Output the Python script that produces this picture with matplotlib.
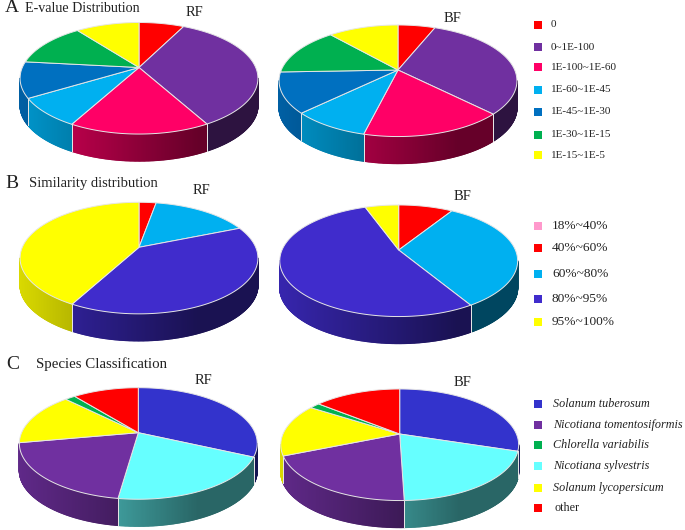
"""Three rows of perspective pies (RF / BF), drawn on one pixel-sized axes."""

import matplotlib

matplotlib.use("Agg")

import matplotlib.pyplot as plt  # noqa: E402
import numpy as np  # noqa: E402
from matplotlib.collections import PolyCollection  # noqa: E402
from matplotlib.colors import to_rgb  # noqa: E402

plt.rcParams["font.family"] = ["Liberation Serif", "DejaVu Serif"]

EVALUE_LABELS = ["0", "0~1E-100", "1E-100~1E-60", "1E-60~1E-45",
                 "1E-45~1E-30", "1E-30~1E-15", "1E-15~1E-5"]
EVALUE_COLORS = ["#FF0000", "#7030A0", "#FF0066", "#00B0F0",
                 "#0070C0", "#00B050", "#FFFF00"]
EVALUE_RF = [7.4, 34.6, 16.0, 8.4, 10.4, 12.9, 10.4]
EVALUE_BF = [6.1, 31.5, 16.3, 8.9, 11.7, 14.1, 11.5]

SIM_LABELS = ["18%~40%", "40%~60%", "60%~80%", "80%~95%", "95%~100%"]
SIM_COLORS = ["#FF99CC", "#FF0000", "#00B0F0", "#402CCC", "#FFFF00"]
SIM_RF = [0.0, 2.8, 16.0, 39.1, 42.1]
SIM_BF = [0.0, 8.9, 32.5, 53.1, 5.5]

# pie order differs from the legend order in this row
SPECIES_LABELS = ["Solanum tuberosum", "Nicotiana tomentosiformis",
                  "Chlorella variabilis", "Nicotiana sylvestris",
                  "Solanum lycopersicum", "other"]
SPECIES_COLORS = ["#3333CC", "#7030A0", "#00B050", "#66FFFF", "#FFFF00", "#FF0000"]
SPECIES_ORDER = [0, 3, 1, 4, 2, 5]
SPECIES_RF = [31.9, 19.9, 1.7, 20.4, 15.4, 10.8]
SPECIES_BF = [29.9, 19.3, 1.7, 19.6, 15.3, 14.2]

# perspective of the disc, in pixels
RADIUS = 116.7
TILT = 53.7
PERSP = 0.193
DEPTH = 27
SIDE_FROM, SIDE_TO = 101.1, 258.9
RIM = "#e6e6e6"


def project(theta_deg, cx, cy):
    th = np.radians(theta_deg)
    w = 1 + PERSP * np.cos(th)
    return cx + RADIUS * np.sin(th) / w, cy - TILT * np.cos(th) / w


def shade(x, cx):
    t = (x - (cx - RADIUS * 1.02)) / (2 * RADIUS * 1.02)
    return np.clip(0.85 - 0.6 * t, 0.4, 1.0)


def draw_pie(ax, values, colors, cx, cy):
    vals = np.asarray(values, dtype=float)
    edges = np.concatenate([[0], np.cumsum(vals) / vals.sum() * 360])
    for start, end, col in zip(edges[:-1], edges[1:], colors):
        if end <= start:
            continue
        rgb = np.array(to_rgb(col))
        # side wall first, as thin strips so it can carry the gradient
        a, b = max(start, SIDE_FROM), min(end, SIDE_TO)
        if b > a:
            th = np.linspace(a, b, max(3, int((b - a) * 2)))
            x, y = project(th, cx, cy)
            quads, cols = [], []
            for i in range(len(th) - 1):
                quads.append([(x[i], y[i]), (x[i + 1], y[i + 1]),
                              (x[i + 1], y[i + 1] + DEPTH), (x[i], y[i] + DEPTH)])
                cols.append(rgb * shade((x[i] + x[i + 1]) / 2, cx))
            ax.add_collection(PolyCollection(quads, facecolors=cols, edgecolors=cols,
                                             linewidths=0.9, zorder=2))
            for k in (a, b):
                if k in (start, end) and SIDE_FROM < k < SIDE_TO:
                    xk, yk = project(k, cx, cy)
                    ax.plot([xk, xk], [yk, yk + DEPTH], color=RIM, lw=0.7, zorder=3)
        # top face
        th = np.linspace(start, end, max(3, int((end - start) * 2)))
        x, y = project(th, cx, cy)
        ax.fill(np.r_[cx, x], np.r_[cy, y], facecolor=col, edgecolor=RIM,
                linewidth=0.7, joinstyle="round", zorder=4)


def draw_legend(ax, labels, colors, ys, text_x, size, **kw):
    for lbl, col, y in zip(labels, colors, ys):
        ax.scatter([538.5], [y], marker="s", s=27, color=col, linewidths=0, zorder=5)
        ax.text(text_x, y, lbl, va="center", ha="left", fontsize=size, color="#222222", **kw)


fig = plt.figure(figsize=(6.85, 5.30), dpi=100)
ax = fig.add_axes([0, 0, 1, 1])
ax.set_xlim(0, 685)
ax.set_ylim(530, 0)
ax.axis("off")

draw_pie(ax, EVALUE_RF, EVALUE_COLORS, 139, 67.5)
draw_pie(ax, EVALUE_BF, EVALUE_COLORS, 398, 70)
draw_pie(ax, SIM_RF, SIM_COLORS, 139, 247.3)
draw_pie(ax, SIM_BF, SIM_COLORS, 398.7, 250)
species_colors = [SPECIES_COLORS[i] for i in SPECIES_ORDER]
draw_pie(ax, [SPECIES_RF[i] for i in SPECIES_ORDER], species_colors, 138.3, 432.7)
draw_pie(ax, [SPECIES_BF[i] for i in SPECIES_ORDER], species_colors, 399.7, 434)

for x, y, s in [(5, 8, "A"), (5, 184, "B"), (6, 364.5, "C")]:
    ax.text(x, y, s, fontsize=14, va="center", ha="left", color="#222222")
for x, y, s, size in [(25, 8, "E-value Distribution", 10.1),
                      (29, 184, "Similarity distribution", 10.5),
                      (36, 364, "Species Classification", 10.7)]:
    ax.text(x, y, s, fontsize=size, va="center", ha="left", color="#222222")
for x, y, s in [(186, 13, "RF"), (444, 18, "BF"), (193, 190, "RF"),
                (454, 196, "BF"), (195, 380, "RF"), (454, 382, "BF")]:
    ax.text(x, y, s, fontsize=10.5, va="center", ha="left", color="#222222")

draw_legend(ax, EVALUE_LABELS, EVALUE_COLORS, [24.5, 47, 67, 90, 111.5, 134.5, 155], 551, 8.0)
draw_legend(ax, SIM_LABELS, SIM_COLORS, [226, 248, 274, 299, 322], 552, 9.6)
draw_legend(ax, SPECIES_LABELS[:-1], SPECIES_COLORS[:-1], [404, 425, 445, 466, 488], 553, 8.7,
            style="italic")
draw_legend(ax, SPECIES_LABELS[-1:], SPECIES_COLORS[-1:], [508], 555, 8.7)

fig.savefig("out.png", dpi=100)
plt.close(fig)
